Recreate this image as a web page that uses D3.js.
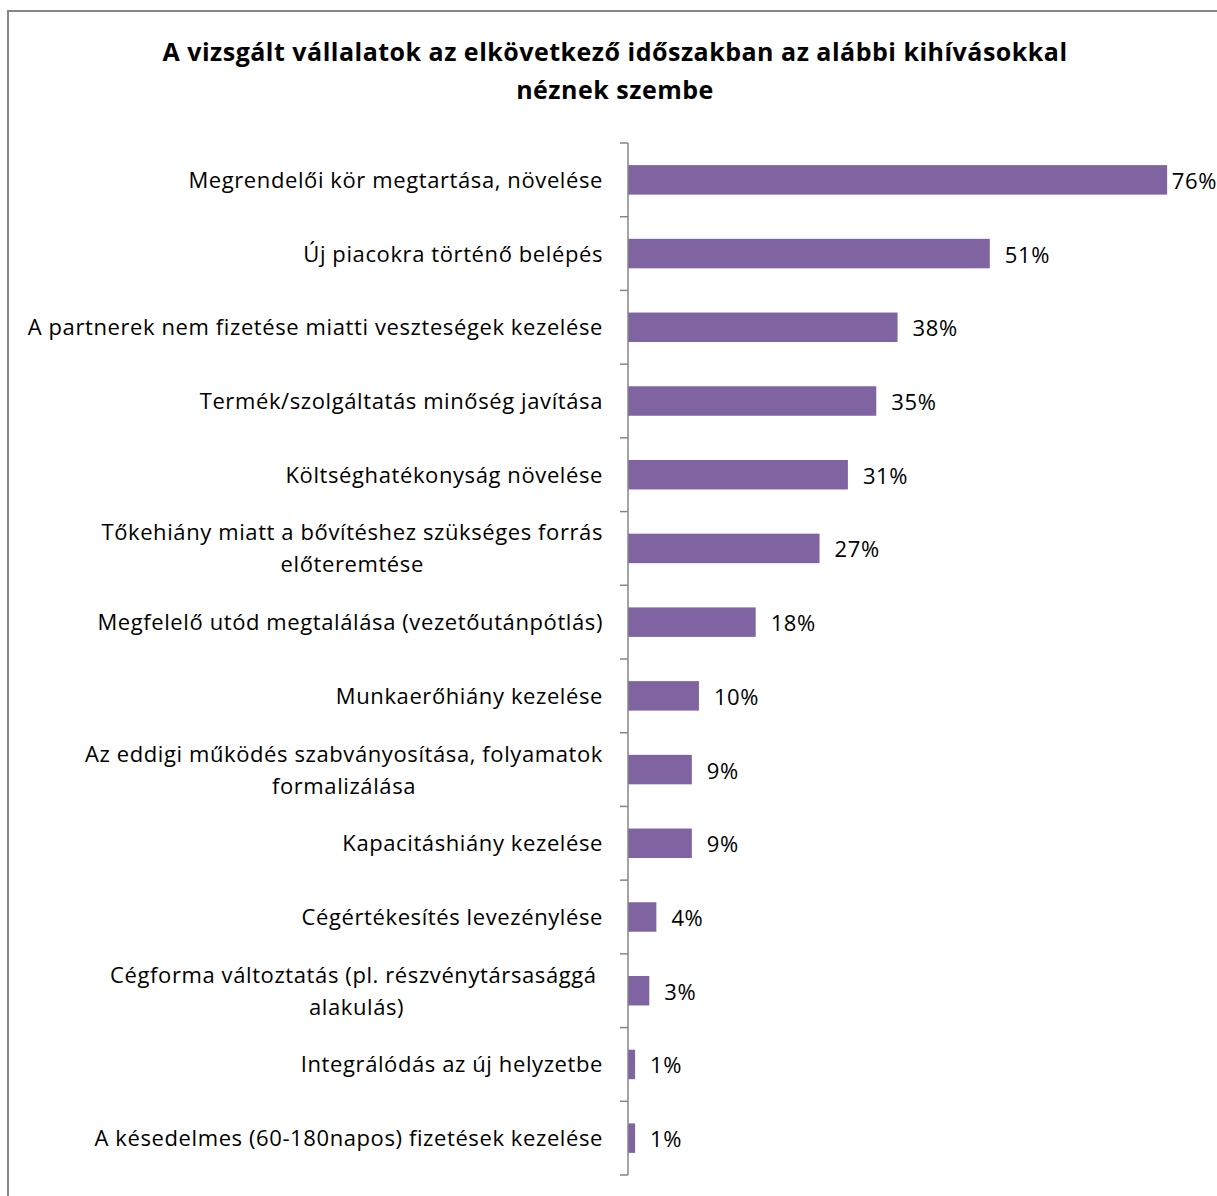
<!DOCTYPE html>
<html>
<head>
<meta charset="utf-8">
<script src="https://cdn.jsdelivr.net/npm/d3@7"></script>
<style>
  body { margin: 0; background: #fff; }
  svg { display: block; }
  .cat { white-space: pre; }
</style>
</head>
<body>
<svg id="chart"></svg>
<script>
// chart values
var title_lines = ["A vizsgált vállalatok az elkövetkező időszakban az alábbi kihívásokkal", "néznek szembe"]
var categories = [
  "Megrendelői kör megtartása, növelése",
  "Új piacokra történő belépés",
  "A partnerek nem fizetése miatti veszteségek kezelése",
  "Termék/szolgáltatás minőség javítása",
  "Költséghatékonyság növelése",
  "Tőkehiány miatt a bővítéshez szükséges forrás\nelőteremtése",
  "Megfelelő utód megtalálása (vezetőutánpótlás)",
  "Munkaerőhiány kezelése",
  "Az eddigi működés szabványosítása, folyamatok\nformalizálása",
  "Kapacitáshiány kezelése",
  "Cégértékesítés levezénylése",
  "Cégforma változtatás (pl. részvénytársasággá \nalakulás)",
  "Integrálódás az új helyzetbe",
  "A késedelmes (60-180napos) fizetések kezelése"
]
var values = [76, 51, 38, 35, 31, 27, 18, 10, 9, 9, 4, 3, 1, 1]
var x_max = 80

var W = 1217, H = 1196
var plot = {"left": 628, "top": 143, "right": 1195.5, "bottom": 1175}
var font = "'Open Sans', 'Liberation Sans', sans-serif"
var purple = "#8064A2"

var svg = d3.select("#chart").attr("width", W).attr("height", H)

// outer chart border (only top and left visible in the crop)
svg.append("rect")
  .attr("x", 8).attr("y", 11)
  .attr("width", W + 20).attr("height", H + 20)
  .attr("fill", "none")
  .attr("stroke", "#878787")
  .attr("stroke-width", 2)

// title
svg.append("g").selectAll("text")
  .data(title_lines)
  .enter()
  .append("text")
  .attr("x", 615)
  .attr("y", function(d, i){ return 61 + i * 38 })
  .attr("text-anchor", "middle")
  .attr("font-family", font)
  .attr("font-weight", "bold")
  .attr("font-size", "25px")
  .attr("letter-spacing", "0.5px")
  .attr("fill", "#000")
  .text(function(d){ return d })

var xScale = d3.scaleLinear()
  .domain([0, x_max])
  .range([plot.left, plot.right])

var yScale = d3.scaleBand()
  .domain(categories)
  .range([plot.top, plot.bottom])
  .paddingInner(0.6)
  .paddingOuter(0.3)

var step = yScale.step()

// bars
svg.append("g").selectAll("rect")
  .data(values)
  .enter()
  .append("rect")
  .attr("x", xScale(0))
  .attr("y", function(d, i){ return yScale(categories[i]) })
  .attr("width", function(d){ return xScale(d) - xScale(0) })
  .attr("height", yScale.bandwidth())
  .attr("fill", purple)

// axis line + ticks at the category boundaries
var axis = svg.append("g")
axis.append("line")
  .attr("x1", plot.left).attr("x2", plot.left)
  .attr("y1", plot.top).attr("y2", plot.bottom)
  .attr("stroke", "#868686").attr("stroke-width", 1.5)
axis.selectAll(".tick")
  .data(d3.range(categories.length + 1))
  .enter()
  .append("line")
  .attr("class", "tick")
  .attr("x1", plot.left - 8).attr("x2", plot.left)
  .attr("y1", function(i){ return plot.top + i * step })
  .attr("y2", function(i){ return plot.top + i * step })
  .attr("stroke", "#868686").attr("stroke-width", 1.5)

// category labels, right aligned block, lines centred in the block
var label_size = 22
var label_spacing = "0.6px"
var line_h = 32
var labels = svg.append("g")
categories.forEach(function(c, i){
  var lines = c.split("\n")
  var cy = yScale(c) + yScale.bandwidth() / 2 - 1
  var g = labels.append("g")
  var texts = g.selectAll("text")
    .data(lines)
    .enter()
    .append("text")
    .attr("class", "cat")
    .attr("font-family", font)
    .attr("font-size", label_size + "px")
    .attr("letter-spacing", label_spacing)
    .attr("fill", "#000")
    .attr("text-anchor", "middle")
    .attr("dominant-baseline", "central")
    .attr("y", function(d, j){ return cy + (j - (lines.length - 1) / 2) * line_h })
    .text(function(d){ return d })
  var widest = 0
  texts.each(function(){ widest = Math.max(widest, this.getComputedTextLength()) })
  texts.attr("x", plot.left - 25 - widest / 2)
})

// value labels
svg.append("g").selectAll("text")
  .data(values)
  .enter()
  .append("text")
  .attr("font-family", font)
  .attr("font-size", label_size + "px")
  .attr("letter-spacing", label_spacing)
  .attr("fill", "#000")
  .attr("dominant-baseline", "central")
  .attr("y", function(d, i){ return yScale(categories[i]) + yScale.bandwidth() / 2 })
  .text(function(d){ return d + "%" })
  .attr("x", function(d){
    var w = this.getComputedTextLength()
    return Math.min(xScale(d) + 15, W - w)
  })
</script>
</body>
</html>
